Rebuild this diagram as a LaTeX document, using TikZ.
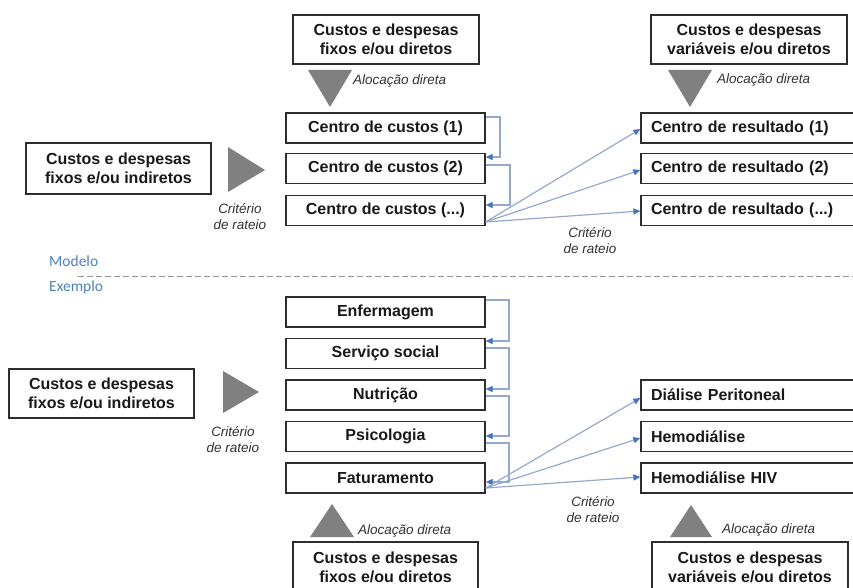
\documentclass[tikz,border=0pt]{standalone}
\usepackage{fontspec}
\setmainfont{Liberation Sans}
\newfontfamily\calibrifont{Carlito}
\usetikzlibrary{arrows.meta}

\definecolor{boxline}{RGB}{45,45,45}
\definecolor{txt}{RGB}{25,25,25}
\definecolor{trigray}{RGB}{128,128,128}
\definecolor{linkline}{RGB}{150,168,205}
\definecolor{tipblue}{RGB}{68,114,196}
\definecolor{modelblue}{RGB}{79,129,189}
\definecolor{sepgray}{RGB}{150,150,150}
\definecolor{notegray}{RGB}{50,50,50}

\begin{document}
\begin{tikzpicture}[x=1pt,y=-1pt,
  box/.style={draw=boxline,line width=1.3pt,fill=white,inner sep=0pt,text=txt,
    font=\bfseries\fontsize{16}{19}\selectfont,align=center},
  cbox/.style={box,minimum width=199pt,minimum height=30pt},
  rbox/.style={box,minimum height=30pt,inner xsep=10pt,text width=194pt,align=left},
  sbox/.style={box,minimum height=49pt},
  note/.style={font=\itshape\fontsize{13.5}{16}\selectfont,text=notegray,inner sep=0pt,align=center},
  part/.style={font=\calibrifont\fontsize{15.5}{18}\selectfont,text=modelblue,inner sep=0pt,anchor=west},
  tri/.style={fill=trigray},
  link/.style={draw=linkline,line width=1.2pt,-{Triangle[length=7pt,width=6pt,color=tipblue]}},
  sep/.style={draw=sepgray,line width=0.9pt,dash pattern=on 6pt off 3pt}]
\useasboundingbox (0,0) rectangle (853,588);
\clip (0,0) rectangle (853,588);

% ---------- Modelo ----------
\node[sbox,minimum width=186pt] (fd1) at (386,39.5) {Custos e despesas\\fixos e/ou diretos};
\node[sbox,minimum width=196pt] (vd1) at (749,39.5) {Custos e despesas\\variáveis e/ou diretos};
\node[sbox,minimum width=185pt,minimum height=51pt] (fi1) at (118.5,168.5) {Custos e despesas\\fixos e/ou indiretos};

\fill[tri] (308,70) -- (352,70) -- (330,107) -- cycle;
\fill[tri] (668,70) -- (712,70) -- (690,107) -- cycle;
\fill[tri] (228,147) -- (228,192) -- (265,170) -- cycle;

\node[note,anchor=west] (ad1) at (353,81) {Alocação direta};
\node[note,anchor=west] (ad2) at (717,80) {Alocação direta};
\node[note] (cr1) at (240,217) {Critério\\de rateio};
\node[note] (cr2) at (590,241) {Critério\\de rateio};

\node[cbox] (cc1) at (385.5,128) {Centro de custos (1)};
\node[cbox] (cc2) at (385.5,168.5) {Centro de custos (2)};
\node[cbox] (cc3) at (385.5,210.5) {Centro de custos (...)};

\node[rbox] (res1) at (748,128) {Centro de resultado (1)};
\node[rbox] (res2) at (748,168.5) {Centro de resultado (2)};
\node[rbox] (res3) at (748,210.5) {Centro de resultado (...)};

\draw[link] (cc1.east |- 0,117) -| (500,157) -- (cc2.east |- 0,157);
\draw[link] (cc2.east |- 0,165) -| (510,205) -- (cc3.east |- 0,205);
\draw[link] (cc3.east |- 0,222) -- (res1.west |- 0,129);
\draw[link] (cc3.east |- 0,222) -- (res2.west |- 0,170);
\draw[link] (cc3.east |- 0,222) -- (res3.west |- 0,211);

% ---------- divisor ----------
\node[part] (modelo) at (49,261) {Modelo};
\draw[sep] (78,276) -- (853,276);
\node[part] (exemplo) at (49,287) {Exemplo};

% ---------- Exemplo ----------
\node[sbox,minimum width=185pt] (fi2) at (101.5,393.5) {Custos e despesas\\fixos e/ou indiretos};
\fill[tri] (223,371) -- (223,413) -- (259,392) -- cycle;
\node[note] (cr3) at (233,440) {Critério\\de rateio};

\node[cbox] (enf) at (385.5,312) {Enfermagem};
\node[cbox] (soc) at (385.5,353.5) {Serviço social};
\node[cbox] (nut) at (385.5,395) {Nutrição};
\node[cbox] (psi) at (385.5,436.5) {Psicologia};
\node[cbox] (fat) at (385.5,478) {Faturamento};

\node[rbox] (dp) at (748,395) {Diálise Peritoneal};
\node[rbox] (hd) at (748,436.5) {Hemodiálise};
\node[rbox] (hiv) at (748,478) {Hemodiálise HIV};

\draw[link] (enf.east |- 0,300) -| (509,341) -- (soc.east |- 0,341);
\draw[link] (soc.east |- 0,348) -| (509,389) -- (nut.east |- 0,389);
\draw[link] (nut.east |- 0,396) -| (509,436) -- (psi.east |- 0,436);
\draw[link] (psi.east |- 0,443) -| (509,482) -- (fat.east |- 0,482);
\draw[link] (fat.east |- 0,488) -- (dp.west |- 0,398);
\draw[link] (fat.east |- 0,488) -- (hd.west |- 0,438);
\draw[link] (fat.east |- 0,488) -- (hiv.west |- 0,477);

\node[note] (cr4) at (593,510) {Critério\\de rateio};

\fill[tri] (310,537) -- (354,537) -- (332,504) -- cycle;
\fill[tri] (670,537) -- (712,537) -- (691,505) -- cycle;
\node[note,anchor=west] (ad3) at (358,531) {Alocação direta};
\node[note,anchor=west] (ad4) at (722,530) {Alocação direta};

\node[box,minimum width=185pt,minimum height=50pt] (fd2) at (385.5,567) {Custos e despesas\\fixos e/ou diretos};
\node[box,minimum width=196pt,minimum height=50pt] (vd2) at (750,567) {Custos e despesas\\variáveis e/ou diretos};
\end{tikzpicture}
\end{document}
